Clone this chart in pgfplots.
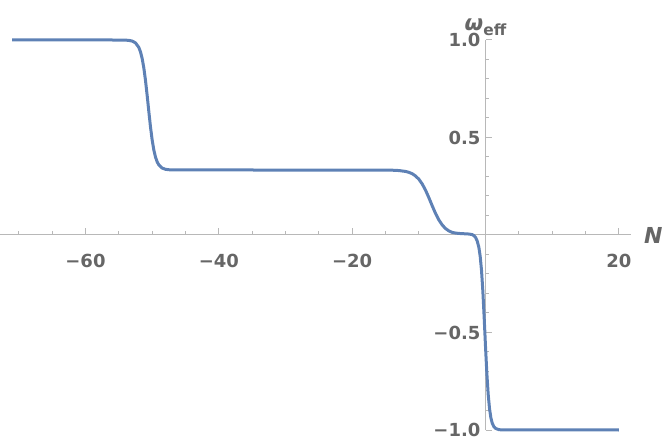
\documentclass[border=0pt]{standalone}
\usepackage{pgfplots}
\pgfplotsset{compat=1.18}
\usepackage{fontspec}
\setmainfont{DejaVu Sans}
\definecolor{mblue}{rgb}{0.368417,0.506779,0.709798}
\definecolor{axgray}{gray}{0.72}
\definecolor{lblgray}{gray}{0.4}

\begin{document}
\begin{tikzpicture}
\useasboundingbox (0,0) rectangle (332pt,222.5pt);
\begin{axis}[
    at={(0pt,7.5pt)}, anchor=south west,
    scale only axis, width=315.5pt, height=195pt,
    xmin=-72.82, xmax=21.82, ymin=-1, ymax=1,
    axis lines=middle,
    axis line style={axgray, line width=0.5pt, -},
    clip=false,
    xtick={-60,-40,-20,20},
    xticklabels={−60,−40,−20,20},
    minor xtick={-70,-65,-55,-50,-45,-35,-30,-25,-15,-10,-5,5,10,15},
    ytick={-1,-0.5,0.5,1},
    yticklabels={−1.0,−0.5,0.5,1.0},
    minor ytick={-0.9,-0.8,-0.7,-0.6,-0.4,-0.3,-0.2,-0.1,0.1,0.2,0.3,0.4,0.6,0.7,0.8,0.9},
    tick align=inside,
    major tick length=3.4pt, minor tick length=1.9pt,
    every tick/.style={axgray, line width=0.5pt},
    ticklabel style={font=\fontsize{9}{10}\selectfont\bfseries, text=lblgray},
    xticklabel style={yshift=-6pt},
    yticklabel style={xshift=1pt},
    xlabel={\bfseries\itshape N},
    ylabel={{\bfseries\itshape ω}\raisebox{-0.45ex}{\fontsize{7.7}{9}\selectfont\bfseries eff}},
    x label style={at={(rel axis cs:1,0.5)}, anchor=west, xshift=3pt,
        font=\fontsize{11}{12}\selectfont, text=lblgray},
    y label style={at={(rel axis cs:0.7694,1)}, anchor=south, rotate=0, xshift=0pt, yshift=-1.5pt,
        font=\fontsize{10.7}{12}\selectfont, text=lblgray},
]
\addplot[mblue, line width=1.5pt, line join=round, no marks] coordinates {
    (-71,1) (-56,1) (-55,0.9999) (-54,0.9993) (-53.5,0.998) (-53,0.9946)
    (-52.5,0.9854) (-52,0.9618) (-51.75,0.9392) (-51.5,0.9054) (-51.25,0.8572)
    (-51,0.7933) (-50.75,0.7163) (-50.5,0.6334) (-50.25,0.5545) (-50,0.4876)
    (-49.75,0.4363) (-49.5,0.3998) (-49.25,0.3753) (-49,0.3594) (-48.5,0.3432)
    (-48,0.337) (-47.5,0.3347) (-47,0.3338) (-46,0.3334) (-30,0.3333)
    (-16,0.3332) (-14,0.3323) (-13,0.3306) (-12,0.326) (-11.5,0.3215)
    (-11,0.3142) (-10.5,0.3029) (-10,0.2861) (-9.5,0.262) (-9,0.23)
    (-8.5,0.1915) (-8,0.1501) (-7.5,0.1106) (-7,0.0772) (-6.5,0.0515)
    (-6,0.0332) (-5.5,0.021) (-5,0.0135) (-4.5,0.010) (-4,0.008)
    (-3.5,0.007) (-3,0.006) (-2.5,0.005) (-2,0.002) (-1.75,-0.003)
    (-1.5,-0.012) (-1.25,-0.0308) (-1,-0.063) (-0.8,-0.1091) (-0.6,-0.1824)
    (-0.4,-0.289) (-0.2,-0.4256) (0,-0.5744) (0.2,-0.711) (0.4,-0.8176)
    (0.6,-0.8909) (0.8,-0.937) (1,-0.9644) (1.25,-0.9829) (1.5,-0.9918)
    (2,-0.9982) (2.5,-0.9996) (3,-0.9999) (20,-1)
};
\end{axis}
\end{tikzpicture}
\end{document}
